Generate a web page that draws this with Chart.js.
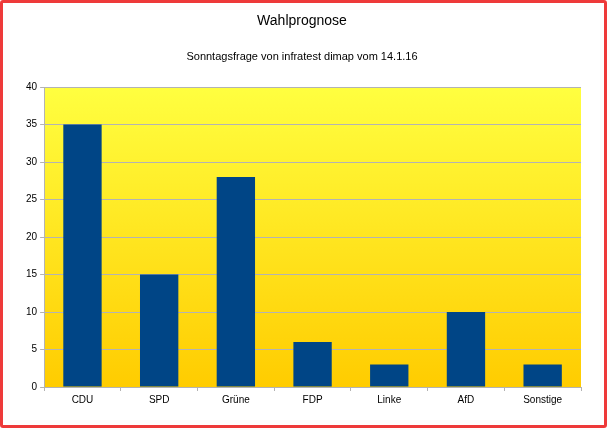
<!DOCTYPE html>
<html><head><meta charset="utf-8">
<script src="https://cdn.jsdelivr.net/npm/chart.js"></script>
<style>
html,body{margin:0;padding:0;background:#fff;}
#box{width:607px;height:428px;box-sizing:border-box;border:3px solid #ee3a3a;border-radius:3px;position:relative;}
</style></head><body>
<div id="box"><canvas id="c" width="601" height="422"></canvas></div>
<script>
// Wahlprognose data
var parties = ['CDU', 'SPD', 'Grüne', 'FDP', 'Linke', 'AfD', 'Sonstige'];
var percent = [35, 15, 28, 6, 3, 10, 3];
var yTicks = [0, 5, 10, 15, 20, 25, 30, 35, 40];

var gradientBg = {
    id: 'gradientBg',
    beforeDraw: function(chart) {
        var a = chart.chartArea, ctx = chart.ctx;
        var g = ctx.createLinearGradient(0, a.top, 0, a.bottom);
        g.addColorStop(0, '#ffff40');
        g.addColorStop(1, '#ffcc00');
        ctx.save();
        ctx.fillStyle = g;
        ctx.fillRect(a.left, a.top, a.right - a.left, a.bottom - a.top);
        ctx.restore();
    }
};

new Chart(document.getElementById('c'), {
    type: 'bar',
    data: {
        labels: parties,
        datasets: [{ data: percent, backgroundColor: '#004586', barPercentage: 0.5, categoryPercentage: 1 }]
    },
    options: {
        responsive: false,
        animation: false,
        layout: { padding: { left: 20, right: 23, top: 0, bottom: 16 } },
        plugins: {
            legend: { display: false },
            tooltip: { enabled: false },
            title: { display: true, text: 'Wahlprognose', color: '#000', font: { family: 'Liberation Sans', size: 14, weight: 'normal' }, padding: { top: 10, bottom: 21 } },
            subtitle: { display: true, text: 'Sonntagsfrage von infratest dimap vom 14.1.16', color: '#000', font: { family: 'Liberation Sans', size: 11 }, padding: { bottom: 23 } }
        },
        scales: {
            x: {
                grid: { display: true, drawOnChartArea: false, color: '#b3b3b3', tickLength: 4, offset: true },
                border: { color: '#b3b3b3' },
                ticks: { color: '#000', font: { family: 'Liberation Sans', size: 10 } }
            },
            y: {
                min: 0, max: 40,
                afterBuildTicks: function(s) { s.ticks = yTicks.map(function(v) { return { value: v }; }); },
                grid: { color: '#b3b3b3', tickLength: 4 },
                border: { color: '#b3b3b3' },
                ticks: { color: '#000', font: { family: 'Liberation Sans', size: 10 } }
            }
        }
    },
    plugins: [gradientBg]
});
</script>
</body></html>
